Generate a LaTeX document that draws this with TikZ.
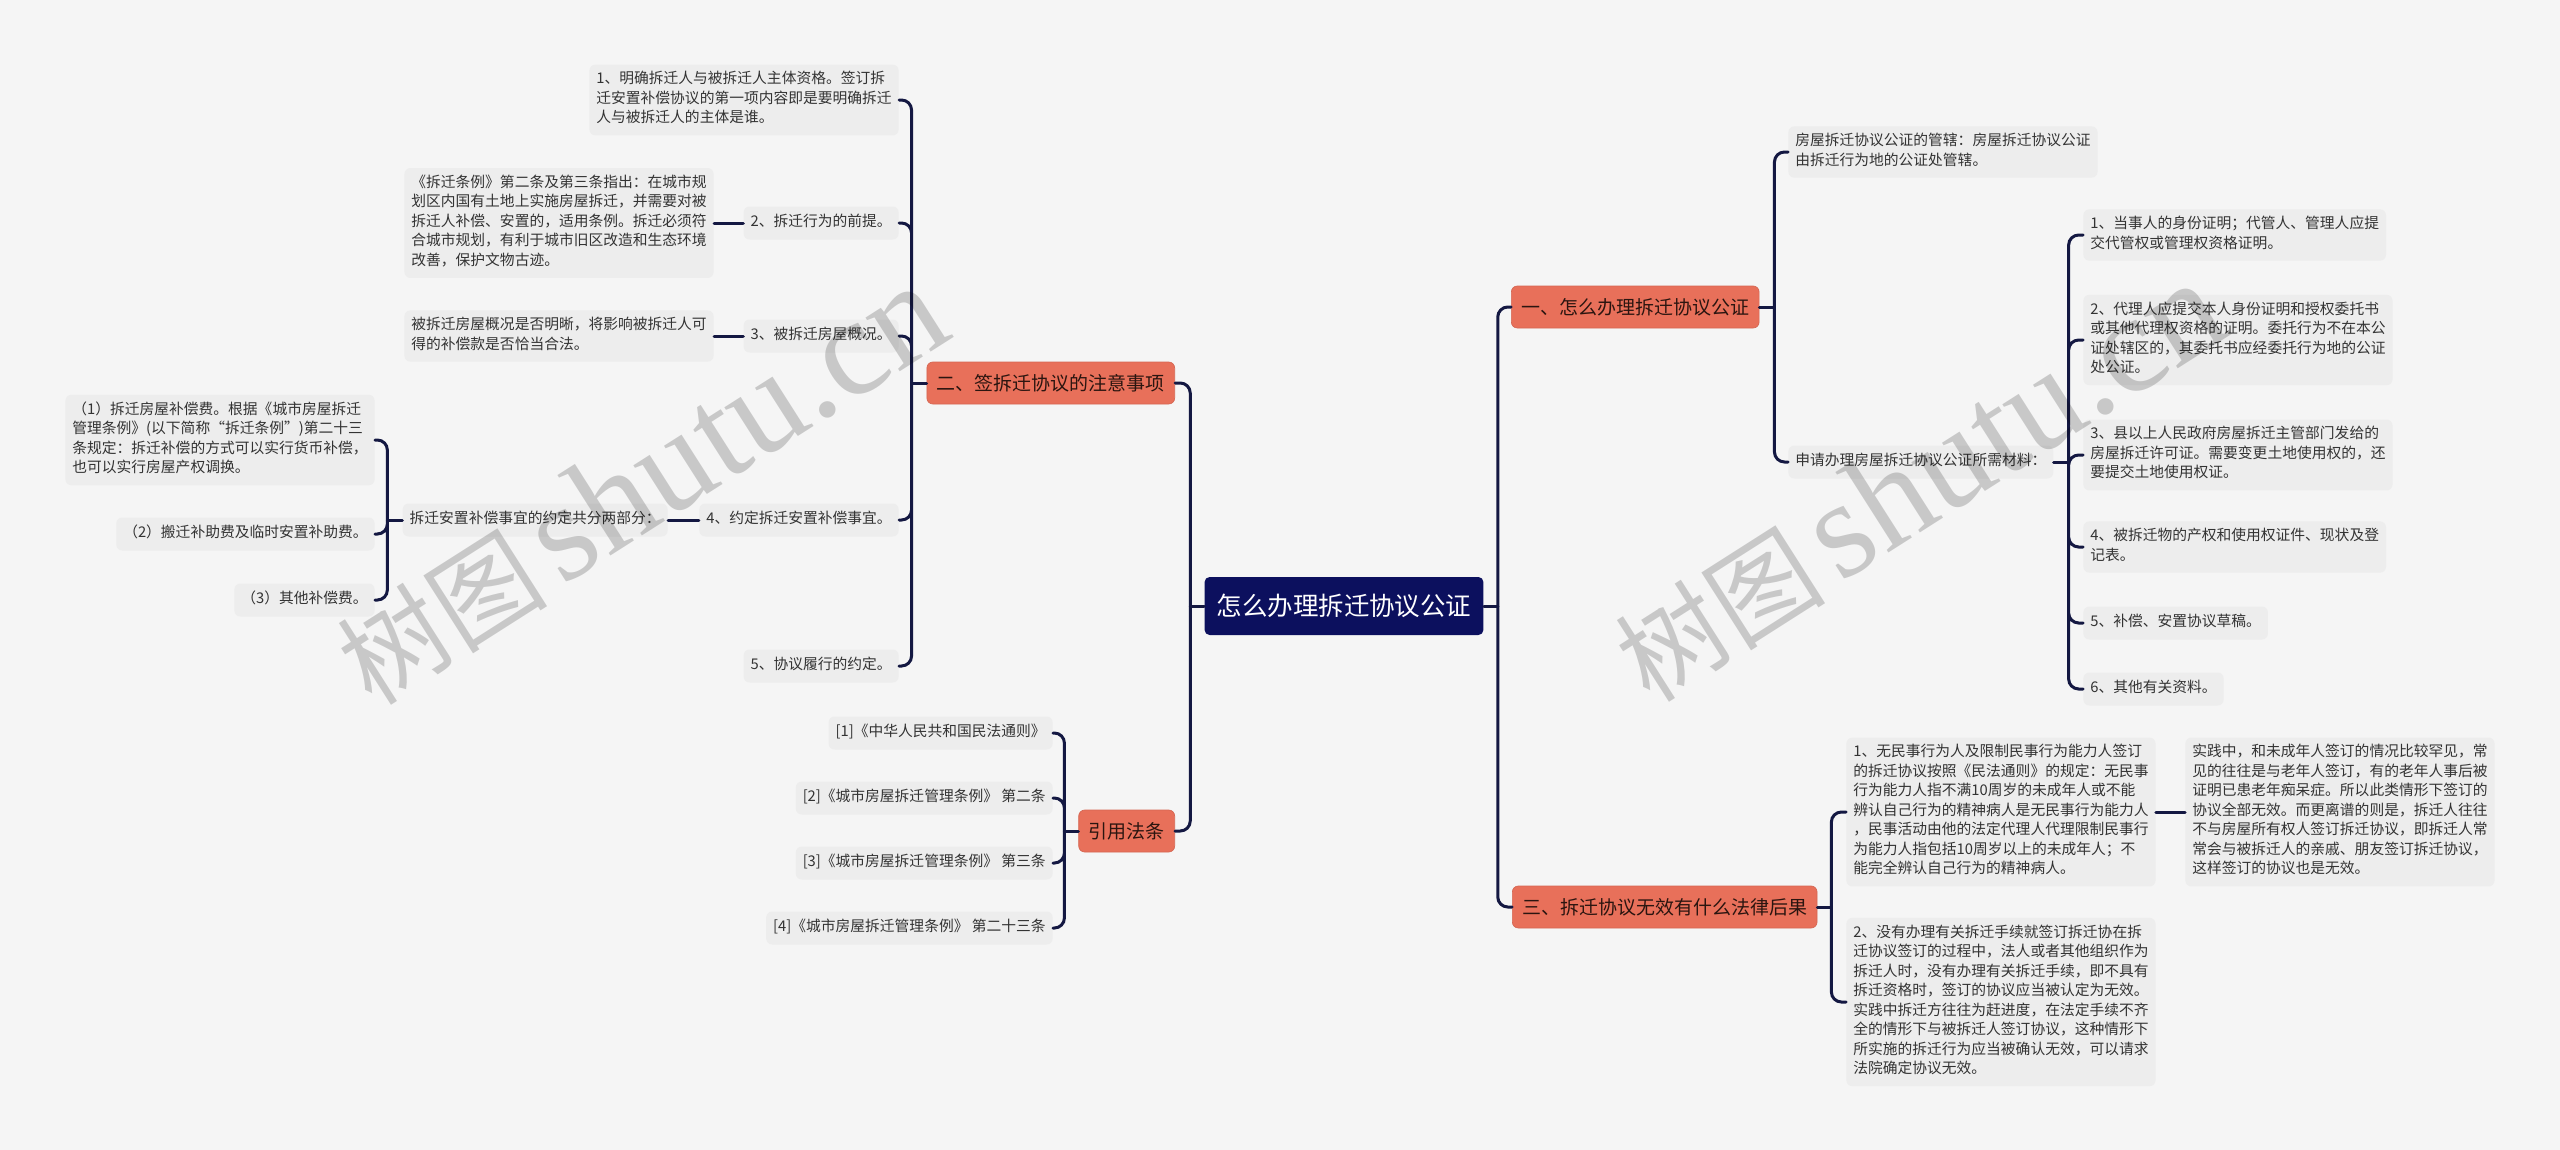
\documentclass[tikz,border=0pt]{standalone}
\usepackage{fontspec}
\setmainfont{Noto Sans CJK SC}
\newfontfamily\wmlat{Liberation Serif}
\usepackage{tikz}
\definecolor{bgpaper}{HTML}{F5F5F5}
\definecolor{leafgray}{HTML}{EDEDED}
\definecolor{inkgray}{HTML}{333333}
\definecolor{topicred}{HTML}{E8705A}
\definecolor{topicink}{HTML}{2B1510}
\definecolor{rootblue}{HTML}{0C105E}
\definecolor{linkblue}{HTML}{141842}
\newcommand\leaffont{\fontsize{8.4pt}{11.1pt}\selectfont}
\newcommand\topicfont{\fontsize{10.8pt}{13pt}\selectfont}
\newcommand\rootfont{\fontsize{14.5pt}{17pt}\selectfont}
\tikzset{
  rootnode/.style={
    fill=rootblue,
    text=white,
    font=\rootfont,
    rounded corners=1mm,
    minimum height=11.6mm,
    inner xsep=2.4mm
  },
  topic/.style={
    fill=topicred,
    draw=topicred!92!black,
    text=topicink,
    font=\topicfont,
    rounded corners=1.2mm,
    minimum height=8.4mm,
    inner xsep=2mm
  },
  leaf/.style={
    fill=leafgray,
    text=inkgray,
    font=\leaffont,
    align=left,
    rounded corners=1.2mm,
    inner xsep=1.4mm,
    inner ysep=1.35mm,
    execute at begin node=\strut,
    execute at end node=\strut
  },
  link/.style={
    draw=linkblue,
    line width=0.6mm,
    line cap=round,
    rounded corners=2mm
  },
  wmark/.style={
    text=black,
    text opacity=0.18,
    font=\fontsize{60pt}{62pt}\selectfont,
    inner sep=0pt,
    rotate=32.5,
    anchor=base west
  }
}
\def\trunkGap{15}

\begin{document}
\begin{tikzpicture}[x=0.2mm,y=-0.2mm]
  % page of 2560 x 1150 px, y grows downwards
  \useasboundingbox (0,0) rectangle (2560,1150);
  \fill[bgpaper] (0,0) rectangle (2560,1150);

  \node[rootnode] (root) at (1344,606) {怎么办理拆迁协议公证};

  % main branches
  \node[topic, anchor=west] (b1) at (1511,307) {一、怎么办理拆迁协议公证};
  \node[topic, anchor=east] (b2) at (1175,383) {二、签拆迁协议的注意事项};
  \node[topic, anchor=west] (b3) at (1512,907) {三、拆迁协议无效有什么法律后果};
  \node[topic, anchor=east] (b4) at (1175,831) {引用法条};

  % left side: 注意事项
  \node[leaf, anchor=east] (L1) at (899,100) {1、明确拆迁人与被拆迁人主体资格。签订拆\\迁安置补偿协议的第一项内容即是要明确拆迁\\人与被拆迁人的主体是谁。};
  \node[leaf, anchor=east] (L2) at (899,223) {2、拆迁行为的前提。};
  \node[leaf, anchor=east] (L2a) at (714,223) {《拆迁条例》第二条及第三条指出：在城市规\\划区内国有土地上实施房屋拆迁，并需要对被\\拆迁人补偿、安置的，适用条例。拆迁必须符\\合城市规划，有利于城市旧区改造和生态环境\\改善，保护文物古迹。};
  \node[leaf, anchor=east] (L3) at (899,336) {3、被拆迁房屋概况。};
  \node[leaf, anchor=east] (L3a) at (714,336) {被拆迁房屋概况是否明晰，将影响被拆迁人可\\得的补偿款是否恰当合法。};
  \node[leaf, anchor=east] (L4) at (899,520) {4、约定拆迁安置补偿事宜。};
  \node[leaf, anchor=east] (L4a) at (668,520) {拆迁安置补偿事宜的约定共分两部分：};
  \node[leaf, anchor=east] (L4a1) at (375,440) {（1）拆迁房屋补偿费。根据《城市房屋拆迁\\管理条例》(以下简称“拆迁条例”)第二十三\\条规定：拆迁补偿的方式可以实行货币补偿，\\也可以实行房屋产权调换。};
  \node[leaf, anchor=east] (L4a2) at (375,534) {（2）搬迁补助费及临时安置补助费。};
  \node[leaf, anchor=east] (L4a3) at (375,600) {（3）其他补偿费。};
  \node[leaf, anchor=east] (L5) at (899,666) {5、协议履行的约定。};

  % left side: 引用法条
  \node[leaf, anchor=east] (R1) at (1053,733) {[1]《中华人民共和国民法通则》};
  \node[leaf, anchor=east] (R2) at (1053,798) {[2]《城市房屋拆迁管理条例》 第二条};
  \node[leaf, anchor=east] (R3) at (1053,863) {[3]《城市房屋拆迁管理条例》 第三条};
  \node[leaf, anchor=east] (R4) at (1053,928) {[4]《城市房屋拆迁管理条例》 第二十三条};

  % right side: 办理公证
  \node[leaf, anchor=west] (A1) at (1788,152) {房屋拆迁协议公证的管辖：房屋拆迁协议公证\\由拆迁行为地的公证处管辖。};
  \node[leaf, anchor=west] (A2) at (1788,462) {申请办理房屋拆迁协议公证所需材料：};
  \node[leaf, anchor=west] (M1) at (2083,235) {1、当事人的身份证明；代管人、管理人应提\\交代管权或管理权资格证明。};
  \node[leaf, anchor=west] (M2) at (2083,340) {2、代理人应提交本人身份证明和授权委托书\\或其他代理权资格的证明。委托行为不在本公\\证处辖区的，其委托书应经委托行为地的公证\\处公证。};
  \node[leaf, anchor=west] (M3) at (2083,455) {3、县以上人民政府房屋拆迁主管部门发给的\\房屋拆迁许可证。需要变更土地使用权的，还\\要提交土地使用权证。};
  \node[leaf, anchor=west] (M4) at (2083,547) {4、被拆迁物的产权和使用权证件、现状及登\\记表。};
  \node[leaf, anchor=west] (M5) at (2083,623) {5、补偿、安置协议草稿。};
  \node[leaf, anchor=west] (M6) at (2083,689) {6、其他有关资料。};

  % right side: 无效后果
  \node[leaf, anchor=west] (C1) at (1846,812) {1、无民事行为人及限制民事行为能力人签订\\的拆迁协议按照《民法通则》的规定：无民事\\行为能力人指不满10周岁的未成年人或不能\\辨认自己行为的精神病人是无民事行为能力人\\，民事活动由他的法定代理人代理限制民事行\\为能力人指包括10周岁以上的未成年人；不\\能完全辨认自己行为的精神病人。};
  \node[leaf, anchor=west] (C1a) at (2185,812) {实践中，和未成年人签订的情况比较罕见，常\\见的往往是与老年人签订，有的老年人事后被\\证明已患老年痴呆症。所以此类情形下签订的\\协议全部无效。而更离谱的则是，拆迁人往往\\不与房屋所有权人签订拆迁协议，即拆迁人常\\常会与被拆迁人的亲戚、朋友签订拆迁协议，\\这样签订的协议也是无效。};
  \node[leaf, anchor=west] (C2) at (1846,1002) {2、没有办理有关拆迁手续就签订拆迁协在拆\\迁协议签订的过程中，法人或者其他组织作为\\拆迁人时，没有办理有关拆迁手续，即不具有\\拆迁资格时，签订的协议应当被认定为无效。\\实践中拆迁方往往为赶进度，在法定手续不齐\\全的情形下与被拆迁人签订协议，这种情形下\\所实施的拆迁行为应当被确认无效，可以请求\\法院确定协议无效。};

  % root trunks
  \draw[link] (root.west) -- ++(-14,0) coordinate (rl);
  \draw[link] (rl) |- (b2.east) (rl) |- (b4.east);
  \draw[link] (root.east) -- ++(14,0) coordinate (rr);
  \draw[link] (rr) |- (b1.west) (rr) |- (b3.west);

  % 注意事项 trunk
  \draw[link] (b2.west) -- ++(-\trunkGap,0) coordinate (b2t);
  \draw[link] (b2t) |- (L1.east) (b2t) |- (L2.east) (b2t) |- (L3.east)
    (b2t) |- (L4.east) (b2t) |- (L5.east);
  \draw[link] (L2.west) -- (L2a.east);
  \draw[link] (L3.west) -- (L3a.east);
  \draw[link] (L4.west) -- (L4a.east);
  \draw[link] (L4a.west) -- ++(-\trunkGap,0) coordinate (L4t);
  \draw[link] (L4t) |- (L4a1.east) (L4t) |- (L4a2.east) (L4t) |- (L4a3.east);

  % 引用法条 trunk
  \draw[link] (b4.west) -- ++(-14,0) coordinate (b4t);
  \draw[link] (b4t) |- (R1.east) (b4t) |- (R2.east) (b4t) |- (R3.east) (b4t) |- (R4.east);

  % 办理公证 trunk
  \draw[link] (b1.east) -- ++(\trunkGap,0) coordinate (b1t);
  \draw[link] (b1t) |- (A1.west) (b1t) |- (A2.west);
  \draw[link] (A2.east) -- ++(\trunkGap,0) coordinate (A2t);
  \draw[link] (A2t) |- (M1.west) (A2t) |- (M2.west) (A2t) |- (M3.west)
    (A2t) |- (M4.west) (A2t) |- (M5.west) (A2t) |- (M6.west);

  % 无效后果 trunk
  \draw[link] (b3.east) -- ++(14,0) coordinate (b3t);
  \draw[link] (b3t) |- (C1.west) (b3t) |- (C2.west);
  \draw[link] (C1.east) -- (C1a.west);

  % watermarks
  \node[wmark] (wm1) at (372,708) {树图\hspace{3mm}{\wmlat\fontsize{79pt}{79pt}\selectfont shutu.cn}};
  \node[wmark] (wm2) at (1650,705) {树图\hspace{3mm}{\wmlat\fontsize{79pt}{79pt}\selectfont shutu.cn}};
\end{tikzpicture}
\end{document}
